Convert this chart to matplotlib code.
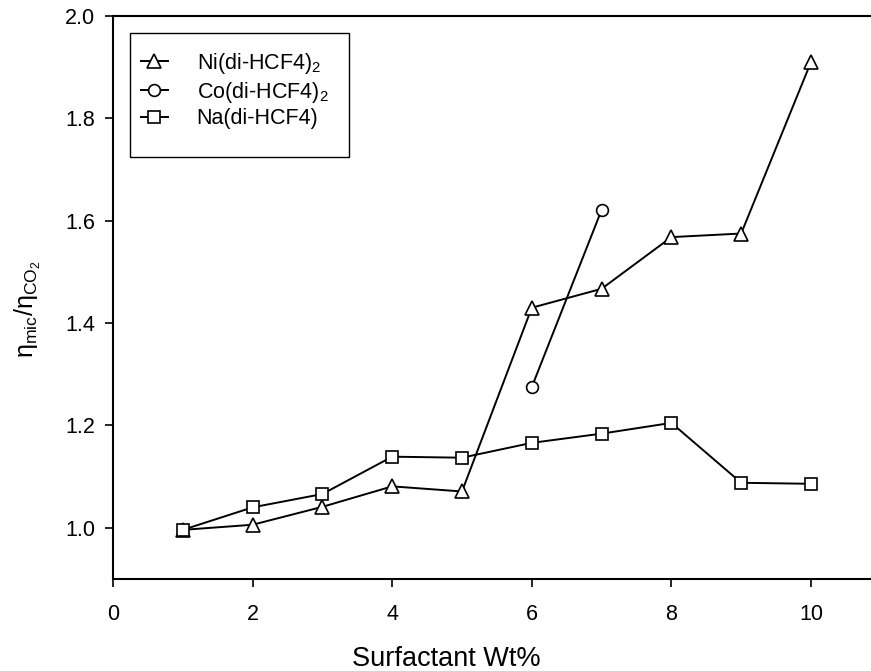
import matplotlib
import matplotlib.pyplot as plt
from matplotlib.patches import Rectangle

matplotlib.use("Agg")

plt.rcParams["font.family"] = ["Liberation Sans", "DejaVu Sans"]
plt.rcParams["mathtext.fontset"] = "custom"
plt.rcParams["mathtext.rm"] = "Liberation Sans"
plt.rcParams["mathtext.it"] = "Liberation Sans"

# Surfactant concentration (wt%) and relative viscosity for each surfactant
wt_ni = [1, 2, 3, 4, 5, 6, 7, 8, 9, 10]
visc_ni = [0.996, 1.006, 1.041, 1.081, 1.071, 1.430, 1.467, 1.568, 1.575, 1.910]

wt_co = [6, 7]
visc_co = [1.275, 1.621]

wt_na = [1, 2, 3, 4, 5, 6, 7, 8, 9, 10]
visc_na = [0.996, 1.040, 1.066, 1.139, 1.137, 1.166, 1.184, 1.205, 1.088, 1.086]

x_ticks = [0, 2, 4, 6, 8, 10]
y_ticks = [1.0, 1.2, 1.4, 1.6, 1.8, 2.0]

W, H = 871, 671
fig = plt.figure(figsize=(W / 100, H / 100), dpi=100)
ax = fig.add_axes([113 / W, 1 - 579 / H, (871 - 113) / W, (579 - 16) / H])

style = dict(color="black", linewidth=1.4, markerfacecolor="white",
             markeredgecolor="black", markeredgewidth=1.2)
ax.plot(wt_ni, visc_ni, marker="^", markersize=9.5, label=r"Ni(di-HCF4)$_2$", **style)
ax.plot(wt_co, visc_co, marker="o", markersize=8.5, label=r"Co(di-HCF4)$_2$", **style)
ax.plot(wt_na, visc_na, marker="s", markersize=8.5, label="Na(di-HCF4)", **style)

ax.set_xlim(0, 10.86)
ax.set_ylim(0.9, 2.0)
ax.set_xticks(x_ticks)
ax.set_yticks(y_ticks)
ax.set_xticklabels([str(t) for t in x_ticks])
ax.set_yticklabels([f"{t:.1f}" for t in y_ticks])
ax.tick_params(direction="out", length=6, width=1.2, labelsize=15.5)
ax.tick_params(axis="x", pad=12)
ax.tick_params(axis="y", pad=7)

ax.spines["right"].set_visible(False)
for s in ["left", "bottom", "top"]:
    ax.spines[s].set_linewidth(1.5)

# legend box drawn separately so its padding matches the original
box = Rectangle((130 / W, 1 - 157 / H), (349 - 130) / W, (157 - 33) / H,
                transform=fig.transFigure, facecolor="white", edgecolor="black",
                linewidth=1.0, zorder=4, clip_on=False)
ax.add_patch(box)
leg = ax.legend(loc="upper left", bbox_to_anchor=(0.0224, 0.957), fontsize=15.5,
                frameon=False, handlelength=1.25, handletextpad=1.35,
                labelspacing=0.17, borderpad=0.5, borderaxespad=0)
leg.set_zorder(5)

fig.text(446 / W, 1 - 666 / H, "Surfactant Wt%", fontsize=19.5,
         ha="center", va="baseline")
fig.text(34 / W, 1 - 309 / H, r"$\mathregular{\eta_{mic}/\eta_{CO_2}}$", fontsize=18,
         rotation=90, rotation_mode="anchor", ha="center", va="baseline")

fig.savefig("out.png", dpi=100)
